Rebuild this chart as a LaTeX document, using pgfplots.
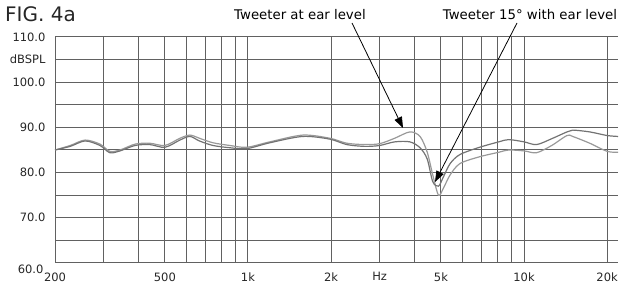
\documentclass[border=0pt]{standalone}
\usepackage{pgfplots}
\pgfplotsset{compat=1.18}
\usepackage{fontspec}
\setmainfont{DejaVu Sans}
\usetikzlibrary{arrows.meta}
\begin{document}
\begin{tikzpicture}[x=1pt,y=1pt]
\useasboundingbox (-55,-25) rectangle (574,263);
\begin{axis}[
  at={(0,0)}, anchor=south west,
  scale only axis, width=563pt, height=226pt,
  xmode=log, xmin=200, xmax=21900, ymin=60, ymax=110,
  axis line style={draw=none},
  /pgf/number format/assume math mode=true,
  xtick={200,300,400,500,600,700,800,900,1000,2000,3000,4000,5000,6000,7000,8000,9000,10000,20000},
  xticklabels={200,{},{},500,{},{},{},{},1k,2k,Hz,{},5k,{},{},{},{},10k,20k},
  ytick={70,80,90,100,105,110},
  yticklabels={70.0,80.0,90.0,100.0,dBSPL,110.0},
  extra y ticks={60},
  extra y tick labels={60.0},
  extra y tick style={yticklabel style={yshift=-6pt, xshift=-2pt}},
  minor ytick={65,75,85,95},
  minor xtick={},
  grid=both,
  major grid style={draw=black!62, line width=1pt},
  minor grid style={draw=black!62, line width=1pt},
  major tick length=0pt, minor tick length=0pt,
  tick label style={font=\fontsize{11.5}{12}\selectfont, text=black!85},
  xticklabel style={yshift=-6pt},
  yticklabel style={xshift=-6pt},
  clip=false,
]
\addplot[draw=black!40, line width=1.2pt, smooth] coordinates {
(200,85.0)(227,86.0)(257,87.2)(291,86.3)(316,84.7)(344,85.0)(390,86.3)(441,86.5)(500,86.0)
(567,87.6)(616,88.3)(667,87.6)(747,86.6)(860,86.0)(990,85.6)(1200,86.8)(1580,88.3)(1980,87.6)
(2280,86.5)(2650,86.2)(3000,86.4)(3400,87.6)(3860,89.0)(4200,88.0)(4460,84.5)(4670,79.5)
(4900,75.0)(5100,76.5)(5400,79.5)(5860,82.0)(6900,83.5)(8100,84.5)(8800,85.0)(10000,84.8)
(11100,84.4)(12600,86.0)(14300,88.2)(15000,88.0)(17300,86.5)(20000,84.7)(21900,84.5)
};
\addplot[draw=black!55, line width=1.2pt, smooth] coordinates {
(200,85.0)(227,85.8)(257,87.0)(291,86.0)(316,84.4)(344,84.8)(390,86.0)(441,86.2)(500,85.6)
(567,87.2)(616,88.0)(667,87.0)(747,86.0)(860,85.5)(990,85.3)(1200,86.6)(1580,88.0)(1980,87.4)
(2280,86.2)(2650,85.8)(3000,86.0)(3400,86.8)(3860,86.8)(4200,85.5)(4460,83.0)(4670,78.0)
(4900,77.0)(5100,79.0)(5400,82.0)(5860,84.0)(6900,85.6)(8100,86.8)(8800,87.3)(10000,86.8)
(11100,86.2)(12600,87.5)(14300,89.0)(15000,89.4)(17300,89.0)(20000,88.2)(21900,88.0)
};
\end{axis}
\node[anchor=west, font=\fontsize{20}{22}\selectfont, text=black!85, inner sep=0pt] at (-50,249) {FIG. 4a};
\node[font=\fontsize{13.3}{14}\selectfont, inner sep=0pt] at (245,248) {Tweeter at ear level};
\node[font=\fontsize{13.3}{14}\selectfont, inner sep=0pt] at (475,248) {Tweeter 15° with ear level};
\draw[line width=0.8pt, -{Triangle[length=11pt,width=8pt]}] (297,240) -- (348,135);
\draw[line width=0.8pt, -{Triangle[length=11pt,width=8pt]}] (462,240) -- (380,81);
\end{tikzpicture}
\end{document}
